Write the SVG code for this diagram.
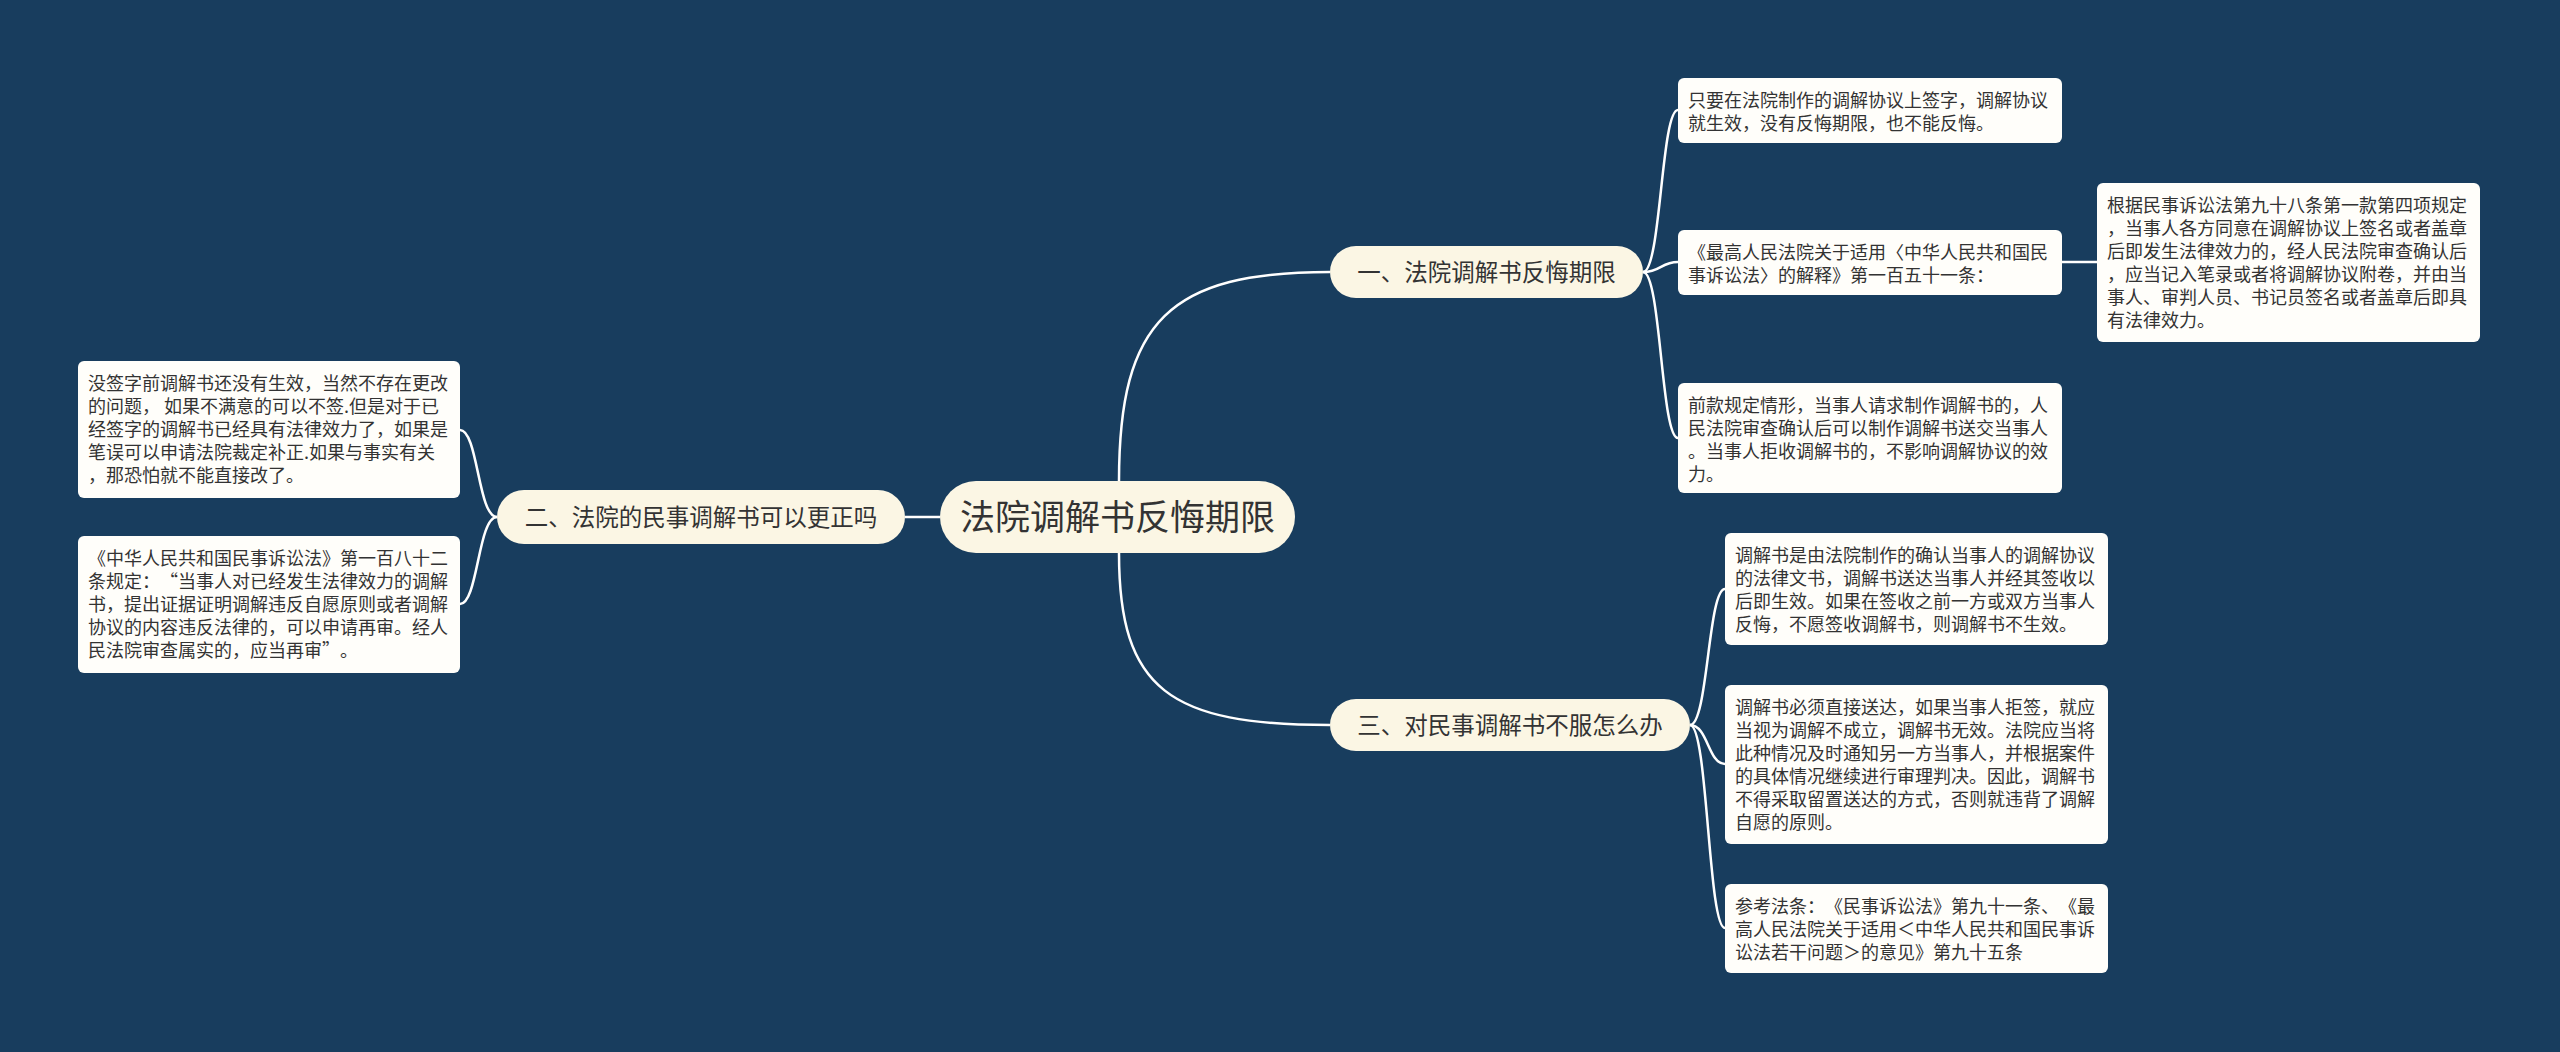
<svg xmlns="http://www.w3.org/2000/svg" width="2560" height="1052" viewBox="0 0 2560 1052" xml:lang="zh-CN">
<style>
.bg{fill:#183d5e}
.main{fill:#fbf6e4}
.br{fill:#fbf6e4}
.leaf{fill:#fffefa}
.t{font-family:"Noto Sans CJK SC","Noto Sans",sans-serif;fill:#333333;text-spacing-trim:space-all}
.tm{font-size:35px;text-anchor:middle}
.tb{font-size:23.5px;text-anchor:middle}
.tl{font-size:18px}
.c{fill:none;stroke:#ffffff;stroke-width:2.5}
</style>
<rect class="bg" x="0" y="0" width="2560" height="1052"/>
<g id="connectors">
<path class="c" d="M940,517 L905,517"/>
<path class="c" d="M1119,481 C1119,320 1170,272 1330,272"/>
<path class="c" d="M1119,553 C1119,690 1170,725 1330,725"/>
<path class="c" d="M1643,272 C1661,272 1661,110 1678,110"/>
<path class="c" d="M1643,272 C1661,272 1661,262 1678,262"/>
<path class="c" d="M1643,272 C1661,272 1661,438 1678,438"/>
<path class="c" d="M2062,262 L2097,262"/>
<path class="c" d="M1690,725 C1708,725 1708,589 1725,589"/>
<path class="c" d="M1690,725 C1708,725 1708,764 1725,764"/>
<path class="c" d="M1690,725 C1708,725 1708,928 1725,928"/>
<path class="c" d="M497,517 C478,517 478,430 460,430"/>
<path class="c" d="M497,517 C478,517 478,604 460,604"/>
</g>
<g id="center">
<rect class="main" x="940" y="481" width="355" height="72" rx="36"/>
<text class="t tm" x="1117.5" y="530">法院调解书反悔期限</text>
</g>
<g id="branch1">
<rect class="br" x="1330" y="246" width="313" height="52" rx="26"/>
<text class="t tb" x="1486.5" y="280.5">一、法院调解书反悔期限</text>
</g>
<g id="branch2">
<rect class="br" x="497" y="490" width="408" height="54" rx="27"/>
<text class="t tb" x="701" y="525.5">二、法院的民事调解书可以更正吗</text>
</g>
<g id="branch3">
<rect class="br" x="1330" y="699" width="360" height="52" rx="26"/>
<text class="t tb" x="1510" y="733.5">三、对民事调解书不服怎么办</text>
</g>
<g id="b1c1">
<rect class="leaf" x="1678" y="78" width="384" height="65" rx="6"/>
<text class="t tl" x="1688" y="107"><tspan x="1688">只要在法院制作的调解协议上签字，调解协议</tspan><tspan x="1688" dy="23">就生效，没有反悔期限，也不能反悔。</tspan></text>
</g>
<g id="b1c2">
<rect class="leaf" x="1678" y="230" width="384" height="65" rx="6"/>
<text class="t tl" x="1688" y="259"><tspan x="1688">《最高人民法院关于适用〈中华人民共和国民</tspan><tspan x="1688" dy="23">事诉讼法〉的解释》第一百五十一条：</tspan></text>
</g>
<g id="b1c2g1">
<rect class="leaf" x="2097" y="183" width="383" height="159" rx="6"/>
<text class="t tl" x="2107" y="212"><tspan x="2107">根据民事诉讼法第九十八条第一款第四项规定</tspan><tspan x="2107" dy="23">，当事人各方同意在调解协议上签名或者盖章</tspan><tspan x="2107" dy="23">后即发生法律效力的，经人民法院审查确认后</tspan><tspan x="2107" dy="23">，应当记入笔录或者将调解协议附卷，并由当</tspan><tspan x="2107" dy="23">事人、审判人员、书记员签名或者盖章后即具</tspan><tspan x="2107" dy="23">有法律效力。</tspan></text>
</g>
<g id="b1c3">
<rect class="leaf" x="1678" y="383" width="384" height="110" rx="6"/>
<text class="t tl" x="1688" y="412"><tspan x="1688">前款规定情形，当事人请求制作调解书的，人</tspan><tspan x="1688" dy="23">民法院审查确认后可以制作调解书送交当事人</tspan><tspan x="1688" dy="23">。当事人拒收调解书的，不影响调解协议的效</tspan><tspan x="1688" dy="23">力。</tspan></text>
</g>
<g id="b3c1">
<rect class="leaf" x="1725" y="533" width="383" height="112" rx="6"/>
<text class="t tl" x="1735" y="562"><tspan x="1735">调解书是由法院制作的确认当事人的调解协议</tspan><tspan x="1735" dy="23">的法律文书，调解书送达当事人并经其签收以</tspan><tspan x="1735" dy="23">后即生效。如果在签收之前一方或双方当事人</tspan><tspan x="1735" dy="23">反悔，不愿签收调解书，则调解书不生效。</tspan></text>
</g>
<g id="b3c2">
<rect class="leaf" x="1725" y="685" width="383" height="159" rx="6"/>
<text class="t tl" x="1735" y="714"><tspan x="1735">调解书必须直接送达，如果当事人拒签，就应</tspan><tspan x="1735" dy="23">当视为调解不成立，调解书无效。法院应当将</tspan><tspan x="1735" dy="23">此种情况及时通知另一方当事人，并根据案件</tspan><tspan x="1735" dy="23">的具体情况继续进行审理判决。因此，调解书</tspan><tspan x="1735" dy="23">不得采取留置送达的方式，否则就违背了调解</tspan><tspan x="1735" dy="23">自愿的原则。</tspan></text>
</g>
<g id="b3c3">
<rect class="leaf" x="1725" y="884" width="383" height="89" rx="6"/>
<text class="t tl" x="1735" y="913"><tspan x="1735">参考法条：《民事诉讼法》第九十一条、《最</tspan><tspan x="1735" dy="23">高人民法院关于适用＜中华人民共和国民事诉</tspan><tspan x="1735" dy="23">讼法若干问题＞的意见》第九十五条</tspan></text>
</g>
<g id="b2c1">
<rect class="leaf" x="78" y="361" width="382" height="137" rx="6"/>
<text class="t tl" x="88" y="390"><tspan x="88">没签字前调解书还没有生效，当然不存在更改</tspan><tspan x="88" dy="23">的问题， 如果不满意的可以不签.但是对于已</tspan><tspan x="88" dy="23">经签字的调解书已经具有法律效力了，如果是</tspan><tspan x="88" dy="23">笔误可以申请法院裁定补正.如果与事实有关</tspan><tspan x="88" dy="23">，那恐怕就不能直接改了。</tspan></text>
</g>
<g id="b2c2">
<rect class="leaf" x="78" y="536" width="382" height="137" rx="6"/>
<text class="t tl" x="88" y="565"><tspan x="88">《中华人民共和国民事诉讼法》第一百八十二</tspan><tspan x="88" dy="23">条规定：“当事人对已经发生法律效力的调解</tspan><tspan x="88" dy="23">书，提出证据证明调解违反自愿原则或者调解</tspan><tspan x="88" dy="23">协议的内容违反法律的，可以申请再审。经人</tspan><tspan x="88" dy="23">民法院审查属实的，应当再审”。</tspan></text>
</g>
</svg>
